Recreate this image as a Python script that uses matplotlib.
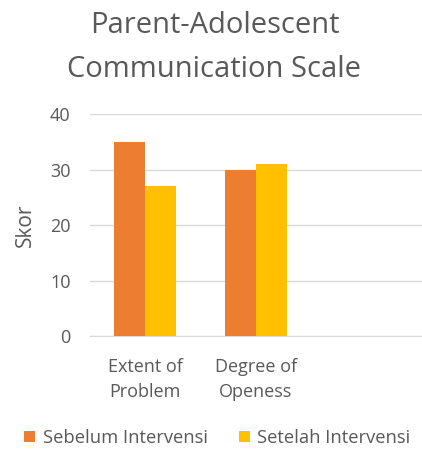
import numpy as np
import matplotlib
matplotlib.use("Agg")
import matplotlib.pyplot as plt

# data
kategori = ["Extent of\nProblem", "Degree of\nOpeness", ""]
sebelum = [35, 30, np.nan]
setelah = [27, 31, np.nan]
seri = ["Sebelum Intervensi", "Setelah Intervensi"]
warna = ["#ED7D31", "#FFC000"]

plt.rcParams["font.family"] = ["Open Sans", "DejaVu Sans"]
abu = "#595959"

fig = plt.figure(figsize=(4.22, 4.5), dpi=100)
ax = fig.add_axes([0.213, 0.2533, 0.787, 0.4933])

x = np.arange(len(kategori))
w = 0.28
ax.bar(x - w / 2, sebelum, w, color=warna[0], label=seri[0], zorder=3)
ax.bar(x + w / 2, setelah, w, color=warna[1], label=seri[1], zorder=3)

ax.set_xlim(-0.5, len(kategori) - 0.5)
ax.set_ylim(0, 40)
ax.set_yticks([0, 10, 20, 30, 40])
ax.set_xticks(x)
ax.set_xticklabels(kategori, fontsize=13, color=abu, linespacing=1.45)
ax.tick_params(axis="y", labelsize=13, colors=abu, length=0, pad=14)
ax.tick_params(axis="x", length=0, pad=16)
ax.grid(axis="y", color="#D9D9D9", linewidth=1, zorder=0)
for s in ["top", "right", "left"]:
    ax.spines[s].set_visible(False)
ax.spines["bottom"].set_color("#D9D9D9")
ax.set_ylabel("Skor", fontsize=15, color=abu, labelpad=10)

fig.text(0.508, 0.975, "Parent-Adolescent\nCommunication Scale", ha="center", va="top",
         fontsize=21, color=abu, linespacing=1.65)

fig.legend(loc="lower center", bbox_to_anchor=(0.515, -0.03), ncol=2, frameon=False,
           fontsize=13.2, labelcolor=abu, handlelength=0.6, handleheight=0.6,
           handletextpad=0.4, columnspacing=1.7)

fig.savefig("out.png", dpi=100)
